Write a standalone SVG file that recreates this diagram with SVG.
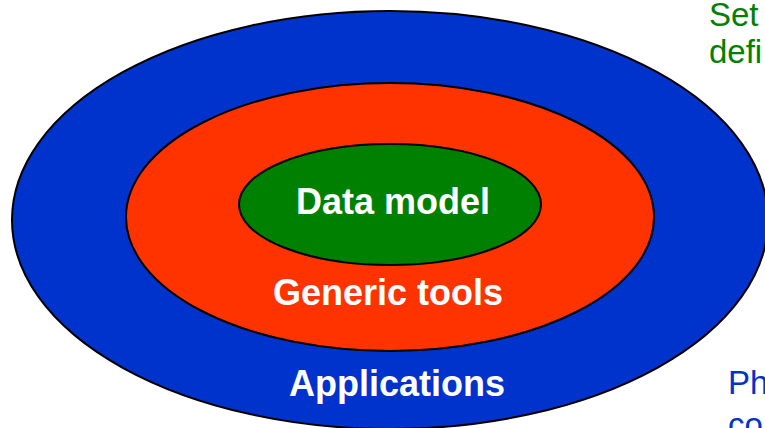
<svg xmlns="http://www.w3.org/2000/svg" width="765" height="428" viewBox="0 0 765 428">
<style>
.ring{stroke:#000;stroke-width:2}
.lbl{font-family:"Liberation Sans",Arial,sans-serif;font-weight:bold;font-size:36px;fill:#fff;text-anchor:middle}
.side{font-family:"Liberation Sans",Arial,sans-serif;font-size:33px}
</style>
<rect width="765" height="428" fill="#fff"/>
<g id="applications">
<ellipse class="ring" cx="390" cy="220" rx="378" ry="209" fill="#0033CC"/>
<text class="lbl" x="397" y="396">Applications</text>
</g>
<g id="generic-tools">
<ellipse class="ring" cx="390" cy="217" rx="264" ry="134" fill="#FF3300"/>
<text class="lbl" x="388" y="305">Generic tools</text>
</g>
<g id="data-model">
<ellipse class="ring" cx="390" cy="204.5" rx="151" ry="60.5" fill="#008000"/>
<text class="lbl" x="393" y="214">Data model</text>
</g>
<g id="notes">
<text class="side" x="709" y="26" fill="#008000">Set</text>
<text class="side" x="709" y="63" fill="#008000">defi</text>
<text class="side" x="728" y="394" fill="#0033CC">Ph</text>
<text class="side" x="728" y="436" fill="#0033CC">co</text>
</g>
<g id="connectors"/>
</svg>
